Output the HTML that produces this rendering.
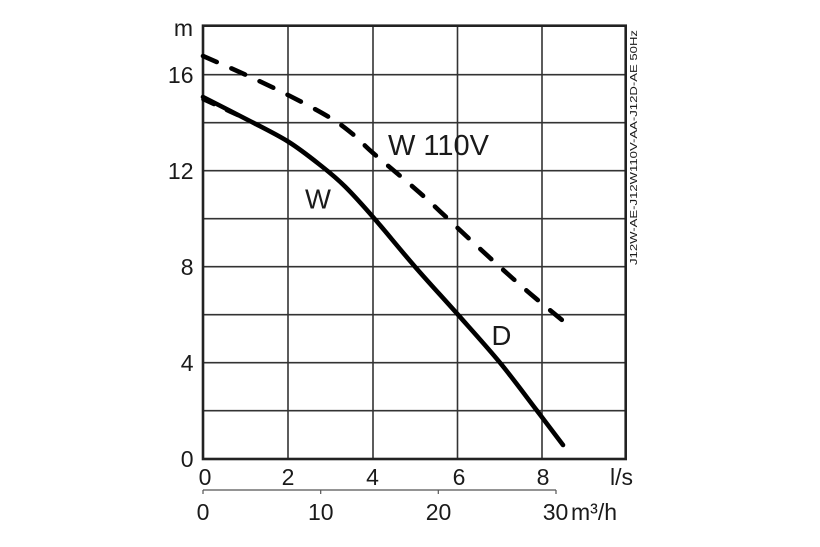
<!DOCTYPE html>
<html>
<head>
<meta charset="utf-8">
<style>
html,body{margin:0;padding:0;background:#fff;}
svg{display:block;}
text{font-family:"Liberation Sans",Arial,sans-serif;fill:#1a1a1a;}
</style>
</head>
<body>
<svg width="820" height="547" viewBox="0 0 820 547" xmlns="http://www.w3.org/2000/svg">
  <!-- grid -->
  <g stroke="#333" stroke-width="1.6" fill="none">
    <line x1="288" y1="25.7" x2="288" y2="459"/>
    <line x1="373" y1="25.7" x2="373" y2="459"/>
    <line x1="457.5" y1="25.7" x2="457.5" y2="459"/>
    <line x1="542" y1="25.7" x2="542" y2="459"/>
    <line x1="203" y1="74.7" x2="625.7" y2="74.7"/>
    <line x1="203" y1="122.7" x2="625.7" y2="122.7"/>
    <line x1="203" y1="170.7" x2="625.7" y2="170.7"/>
    <line x1="203" y1="218.7" x2="625.7" y2="218.7"/>
    <line x1="203" y1="266.7" x2="625.7" y2="266.7"/>
    <line x1="203" y1="314.7" x2="625.7" y2="314.7"/>
    <line x1="203" y1="362.7" x2="625.7" y2="362.7"/>
    <line x1="203" y1="410.7" x2="625.7" y2="410.7"/>
  </g>
  <rect x="203" y="25.7" width="422.7" height="433.3" fill="none" stroke="#222" stroke-width="2.6"/>

  <!-- m3/h axis -->
  <g stroke="#555" stroke-width="1.2">
    <line x1="203" y1="490" x2="556" y2="490"/>
    <line x1="203" y1="490" x2="203" y2="494"/>
    <line x1="320.7" y1="490" x2="320.7" y2="494"/>
    <line x1="438.3" y1="490" x2="438.3" y2="494"/>
    <line x1="556" y1="490" x2="556" y2="494"/>
  </g>

  <!-- solid curve (W / D) -->
  <path fill="none" stroke="#000" stroke-width="4.6" stroke-linecap="round" stroke-linejoin="round"
    d="M203,97 C210,100.6 230.8,111.1 245,118.5
       C259.2,125.9 275.2,133.5 288,141.5
       C300.8,149.5 312.5,159 322,166.5
       C331.5,174 336.5,178.1 345,186.5
       C353.5,194.9 361.3,203.6 373,217
       C384.7,230.4 400.8,250.4 415,266.7
       C429.2,283 443.8,298.7 458,314.7
       C472.2,330.7 486.8,346.7 500,362.7
       C513.2,378.7 526.5,397 537,410.7
       C547.5,424.4 558.7,439.3 563,445"/>
  <polyline fill="none" stroke="#000" stroke-width="3.5" stroke-linecap="round" stroke-dasharray="12 14"
    points="203,99.5 230,112 258,125"/>

  <!-- dashed curve (W 110V) -->
  <path fill="none" stroke="#000" stroke-width="4.6" stroke-linecap="round" stroke-linejoin="round" stroke-dasharray="15 16"
    d="M203,56 C210,59.1 230.8,68 245,74.5
       C259.2,81 274.2,88 288,95
       C301.8,102 317.3,110.1 328,116.5
       C338.7,122.9 344.5,127.4 352,133.5
       C359.5,139.6 361.7,143.1 373,153
       C384.3,162.9 403.8,178.6 420,193
       C436.2,207.4 456.7,227.2 470,239.5
       C483.3,251.8 490,258 500,267
       C510,276 519.7,284.7 530,293.5
       C540.3,302.3 556.7,315.6 562,320"/>

  <!-- curve labels -->
  <text x="388" y="155" font-size="29">W 110V</text>
  <text x="305" y="208.5" font-size="27.5">W</text>
  <text x="491.5" y="345" font-size="27.5">D</text>

  <!-- y labels -->
  <g font-size="23" text-anchor="end">
    <text x="193" y="36">m</text>
    <text x="193.5" y="82.8">16</text>
    <text x="193.5" y="178.8">12</text>
    <text x="193.5" y="274.8">8</text>
    <text x="193.5" y="370.8">4</text>
    <text x="193.5" y="466.8">0</text>
  </g>

  <!-- x labels l/s -->
  <g font-size="23" text-anchor="middle">
    <text x="205" y="485">0</text>
    <text x="288" y="485">2</text>
    <text x="372.5" y="485">4</text>
    <text x="459" y="485">6</text>
    <text x="543" y="485">8</text>
  </g>
  <text x="610" y="485" font-size="23">l/s</text>

  <!-- x labels m3/h -->
  <g font-size="23" text-anchor="middle">
    <text x="203" y="520">0</text>
    <text x="320.8" y="520">10</text>
    <text x="438.5" y="520">20</text>
    <text x="555.5" y="520">30</text>
  </g>
  <text x="571" y="520" font-size="23">m³/h</text>

  <!-- side label -->
  <text transform="translate(637,265) rotate(-90)" font-size="10.5" textLength="235" lengthAdjust="spacingAndGlyphs" fill="#111">J12W-AE-J12W110V-AA-J12D-AE 50Hz</text>
</svg>
</body>
</html>
